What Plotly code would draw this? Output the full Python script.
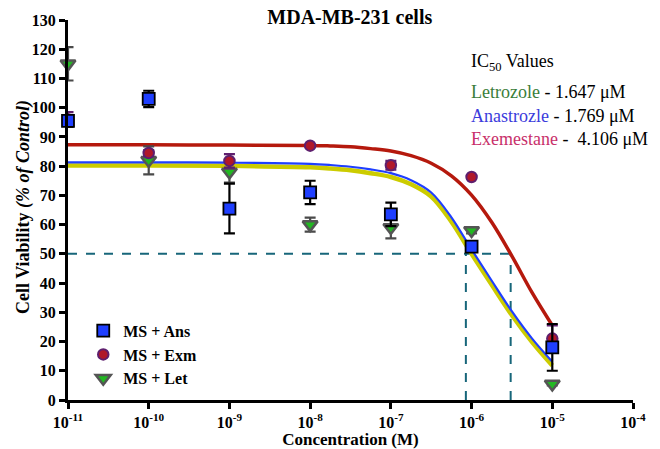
import plotly.graph_objects as go

# ---------------- data ----------------
conc = [1e-11, 1e-10, 1e-9, 1e-8, 1e-7, 1e-6, 1e-5]

ans_mean = [95.5, 103.0, 65.5, 71.0, 63.5, 52.5, 18.0]
ans_err = [2.0, 2.8, 8.5, 4.0, 4.0, 1.5, 8.0]

exm_mean = [96.0, 84.5, 81.8, 87.0, 80.3, 76.3, 21.0]
exm_err = [2.5, 1.0, 2.3, 0.5, 1.5, 0.5, 4.5]

let_mean = [115.0, 82.0, 78.0, 60.0, 59.0, 58.0, 5.5]
let_err = [5.7, 4.8, 3.6, 2.4, 3.7, 1.0, 0.5]

# fitted curves, values
curve_x = [1e-11, 1e-10, 1e-9, 1e-8, 10**-7.75, 10**-7.5, 10**-7.25, 1e-7, 10**-6.75,
           10**-6.5, 10**-6.25, 1e-6, 10**-5.75, 10**-5.5, 10**-5.25, 1e-5]
curve_ans = [81.3, 81.3, 81.2, 80.8, 80.4, 79.8, 78.9, 77.6, 75.2,
             71.0, 62.5, 51.5, 40.8, 30.3, 21.0, 13.1]
curve_let = [80.2, 80.2, 80.1, 79.6, 79.2, 78.6, 77.6, 76.3, 73.8,
             69.6, 61.0, 50.0, 39.4, 29.0, 19.8, 11.8]
curve_exm = [87.3, 87.3, 87.2, 87.1, 86.9, 86.6, 86.0, 85.2, 83.6,
             81.0, 76.7, 70.1, 60.8, 49.2, 36.7, 25.5]

ref_level = 50
ref_x = [8.5e-7, 3.05e-6]   # dashed drop lines

tick_vals = [1e-11, 1e-10, 1e-9, 1e-8, 1e-7, 1e-6, 1e-5, 1e-4]
tick_text = ["10<sup>-11</sup>", "10<sup>-10</sup>", "10<sup>-9</sup>", "10<sup>-8</sup>",
             "10<sup>-7</sup>", "10<sup>-6</sup>", "10<sup>-5</sup>", "10<sup>-4</sup>"]
y_ticks = list(range(0, 131, 10))

names = ["MS + Ans", "MS + Exm", "MS + Let"]
ic50_lines = [("Letrozole", "1.647 μM", "#3a7d3a"),
              ("Anastrozle", "1.769 μM", "#3b3bdc"),
              ("Exemestane", "&nbsp;4.106 μM", "#c8306a")]

FONT = "Liberation Serif"
TEAL = "#17667a"

fig = go.Figure()

# dashed reference lines
fig.add_trace(go.Scatter(x=[conc[0], ref_x[1]], y=[ref_level, ref_level], mode="lines",
                         line=dict(color=TEAL, width=2, dash="dash"), showlegend=False,
                         hoverinfo="skip", cliponaxis=False))
for rx in ref_x:
    fig.add_trace(go.Scatter(x=[rx, rx], y=[0, ref_level], mode="lines",
                             line=dict(color=TEAL, width=2, dash="dash"), showlegend=False,
                             hoverinfo="skip"))

# curves
fig.add_trace(go.Scatter(x=curve_x, y=curve_let, mode="lines", line_shape="spline",
                         line=dict(color="#cccc00", width=4.5), showlegend=False,
                         cliponaxis=False))
fig.add_trace(go.Scatter(x=curve_x, y=curve_ans, mode="lines", line_shape="spline",
                         line=dict(color="#1f3fff", width=2.2), showlegend=False,
                         cliponaxis=False))
fig.add_trace(go.Scatter(x=curve_x, y=curve_exm, mode="lines", line_shape="spline",
                         line=dict(color="#b5190d", width=3.5), showlegend=False,
                         cliponaxis=False))

# data points
fig.add_trace(go.Scatter(
    x=conc, y=let_mean, mode="markers", name=names[2], legendgroup="c", legendrank=3,
    marker=dict(symbol="triangle-down", size=13, color="#22b822",
                line=dict(color="#555555", width=2.5)),
    error_y=dict(type="data", array=let_err, color="#4a4a4a", thickness=2.2, width=5.5),
    cliponaxis=False))
fig.add_trace(go.Scatter(
    x=conc, y=exm_mean, mode="markers", name=names[1], legendgroup="b", legendrank=2,
    marker=dict(symbol="circle", size=10.5, color="#b0182a",
                line=dict(color="#5e1f6e", width=2)),
    error_y=dict(type="data", array=exm_err, color="#5e1f6e", thickness=2.2, width=5.5),
    cliponaxis=False))
fig.add_trace(go.Scatter(
    x=conc, y=ans_mean, mode="markers", name=names[0], legendgroup="a", legendrank=1,
    marker=dict(symbol="square", size=12, color="#1f3fff",
                line=dict(color="black", width=1.8)),
    error_y=dict(type="data", array=ans_err, color="black", thickness=2.2, width=5.5),
    cliponaxis=False))

# IC50 text
TX = (468.5 - 68) / 565
fig.add_annotation(text="IC<sub>50</sub> Values", x=TX, y=(400 - 62.5) / 380, xref="paper",
                   yref="paper", xanchor="left", yanchor="middle", showarrow=False,
                   font=dict(family=FONT, size=18, color="black"))
for i, (drug, val, col) in enumerate(ic50_lines):
    ypix = [91.7, 116.0, 139.0][i]
    fig.add_annotation(text=f"<span style='color:{col}'>{drug}</span> - {val}",
                       x=TX, y=(400 - ypix) / 380, xref="paper", yref="paper",
                       xanchor="left", yanchor="middle", showarrow=False,
                       font=dict(family=FONT, size=18, color="black"))

# y-axis title
fig.add_annotation(text="<b>Cell Viability <i>(% of Control)</i></b>", textangle=-90,
                   x=(23 - 68) / 565, y=(400 - 207) / 380, xref="paper", yref="paper",
                   xanchor="center", yanchor="middle", showarrow=False,
                   font=dict(family=FONT, size=18, color="black"))

fig.update_layout(
    width=660, height=449,
    margin=dict(l=68, r=27, t=20, b=49, autoexpand=False),
    paper_bgcolor="white", plot_bgcolor="white",
    font=dict(family=FONT, color="black"),
    title=dict(text="<b>MDA-MB-231 cells</b>", x=0.53, xanchor="center", y=0.962, yanchor="middle",
               font=dict(family=FONT, size=20, color="black")),
    showlegend=True,
    legend=dict(x=0.027, y=0.227, xanchor="left", yanchor="top", bgcolor="rgba(0,0,0,0)",
                font=dict(family=FONT, size=16, color="black", weight="bold"),
                tracegroupgap=0, traceorder="grouped"),
    xaxis=dict(type="log", range=[-11, -4], tickvals=tick_vals, ticktext=tick_text,
               automargin=False,
               showline=True, linecolor="black", linewidth=3, ticks="outside",
               ticklen=6, tickwidth=3, tickcolor="black", showgrid=False, zeroline=False,
               tickfont=dict(family=FONT, size=16, color="black", weight="bold"),
               title=dict(text="<b>Concentration (M)</b>", standoff=6,
                          font=dict(family=FONT, size=17, color="black"))),
    yaxis=dict(range=[0, 130], tickvals=y_ticks, showline=True, linecolor="black", linewidth=3,
               automargin=False,
               ticks="outside", ticklen=6, tickwidth=3, tickcolor="black", showgrid=False,
               zeroline=False,
               tickfont=dict(family=FONT, size=16, color="black", weight="bold")),
)

fig.write_html("out.html", post_script="document.body.style.margin='0';",
               config={"displayModeBar": False})
